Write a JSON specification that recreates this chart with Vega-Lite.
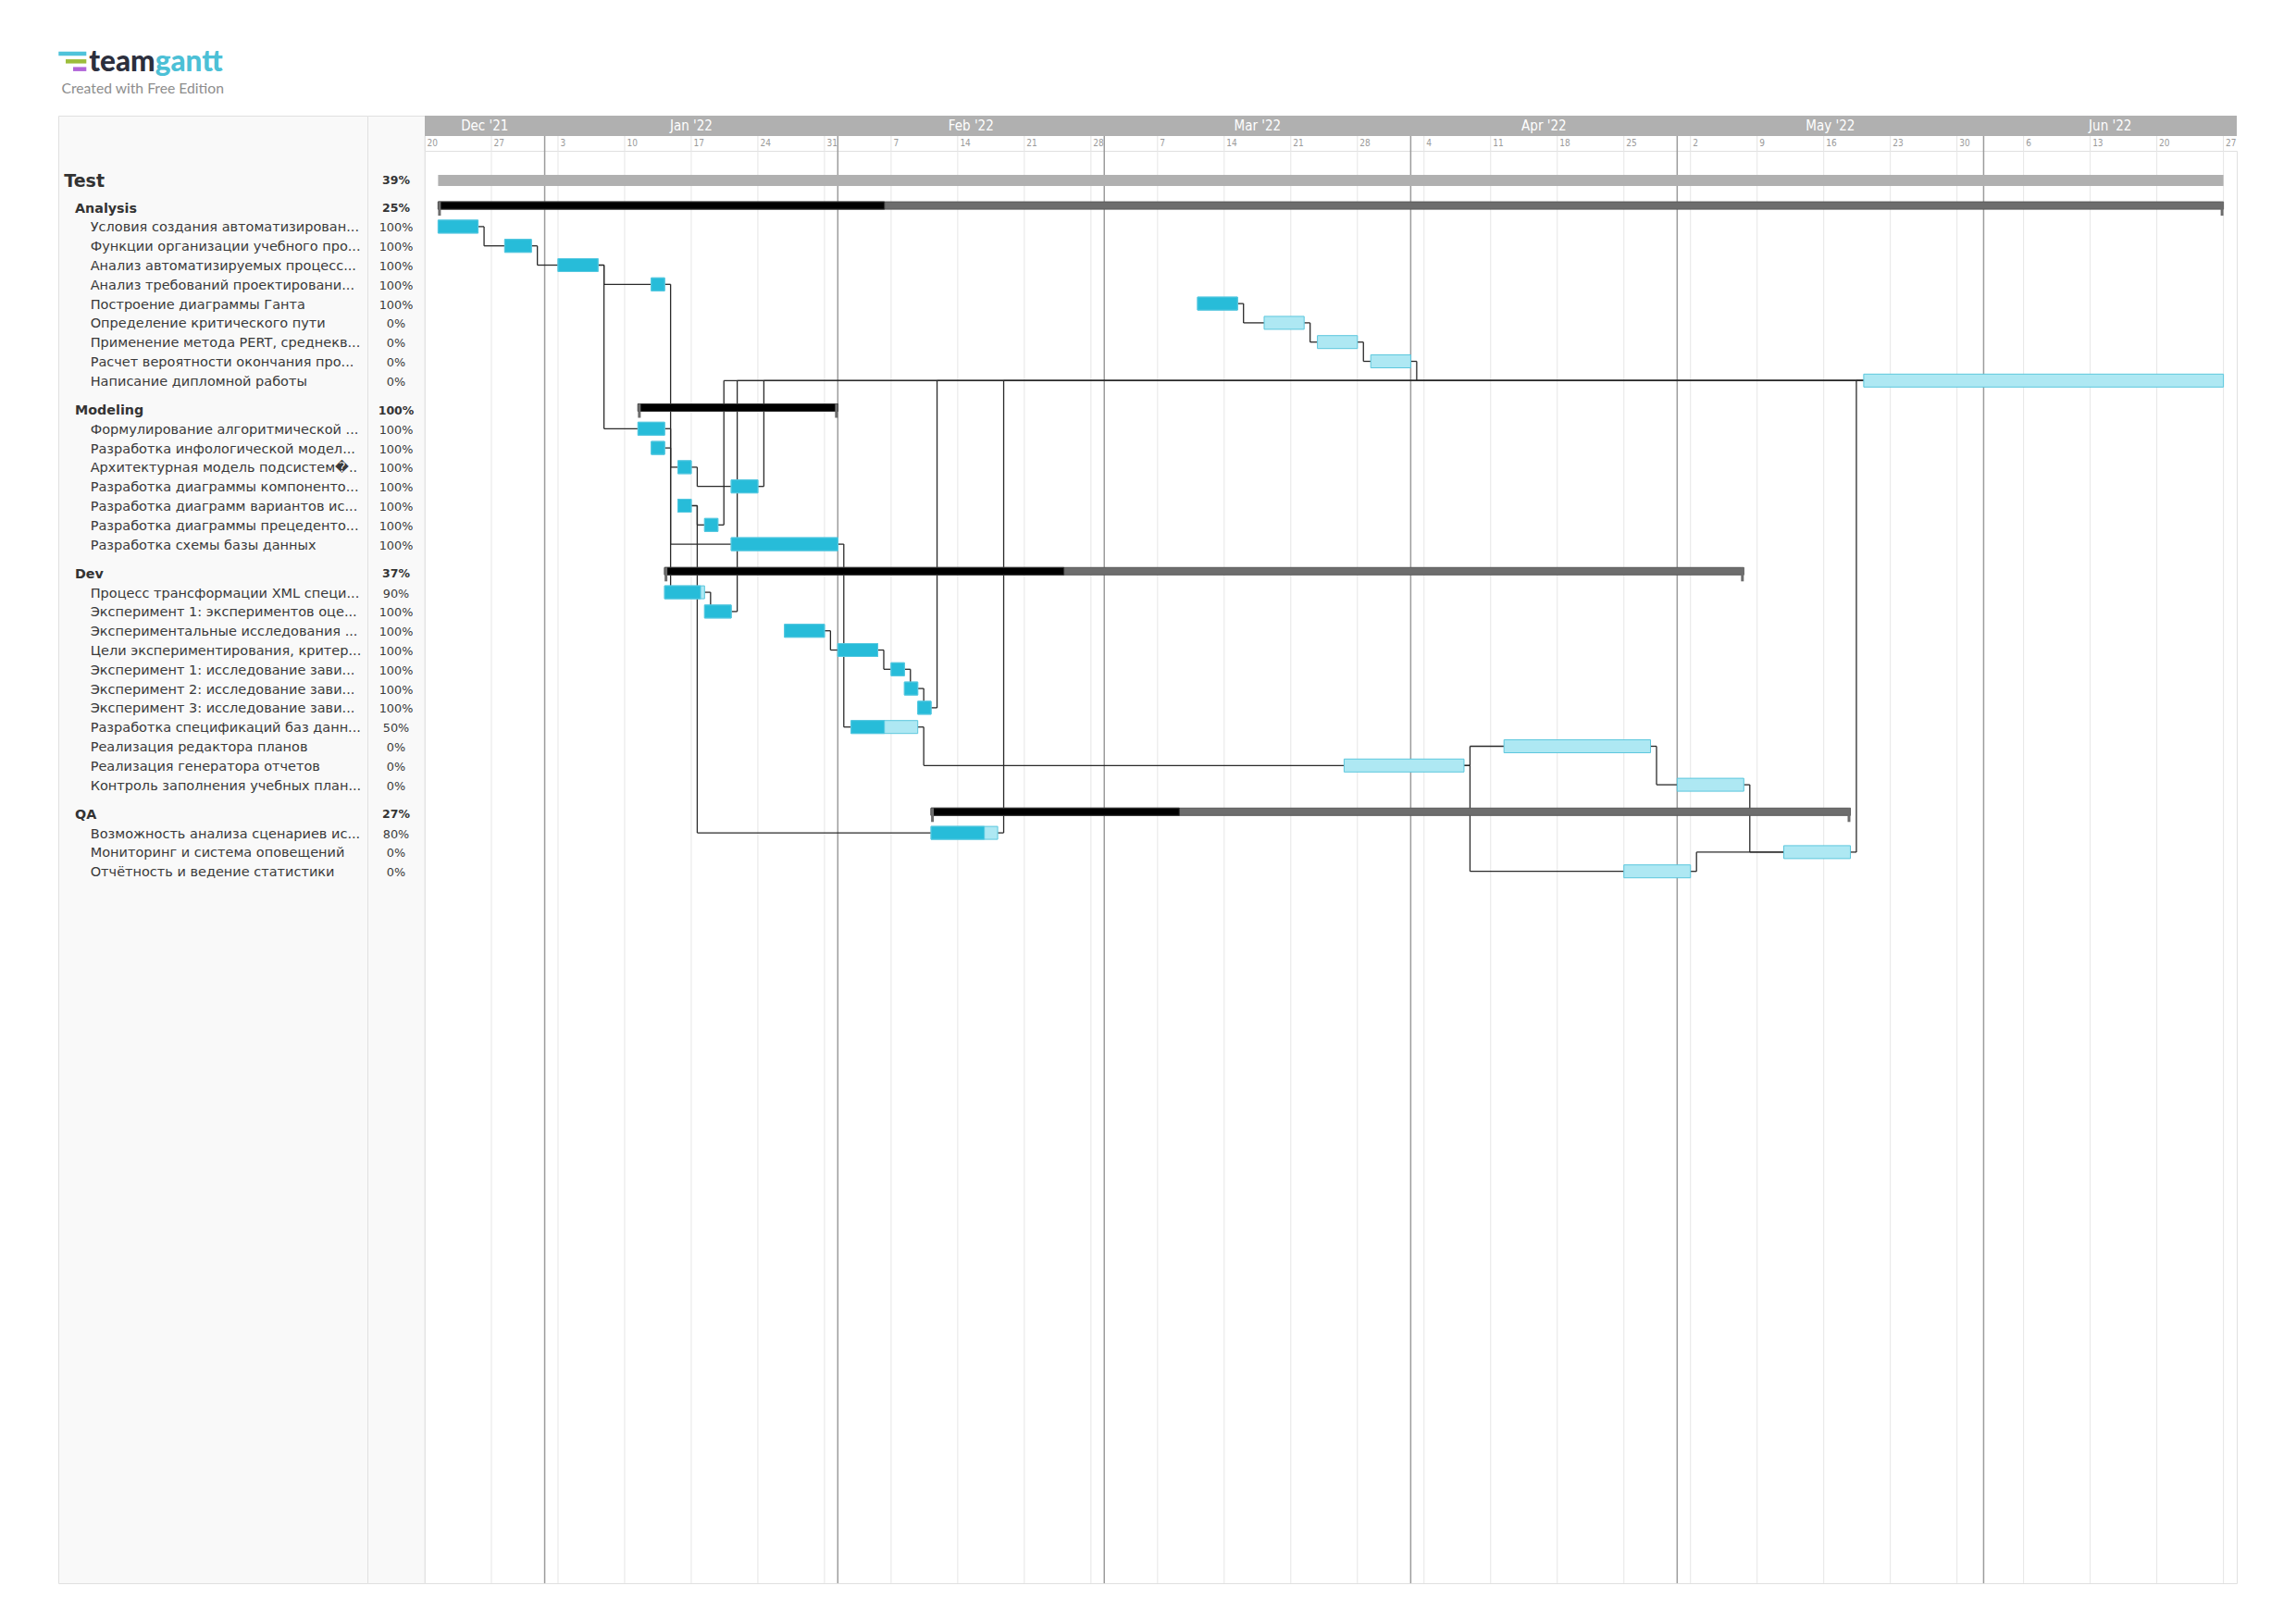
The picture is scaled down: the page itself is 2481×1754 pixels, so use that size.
{
  "$schema": "https://vega.github.io/schema/vega-lite/v6.json",
  "background": "white",
  "padding": {"left": 62, "top": 0, "right": 0, "bottom": 0},
  "bounds": "flush",
  "spacing": 0,
  "config": {"view": {"stroke": null}, "font": "DejaVu Sans", "scale": {"continuousPadding": 0}},
  "datasets": {
    "tasks": [
      {"id": "test", "name": "Test", "type": "project", "level": 0, "row": 0.6, "start": 1, "end": 135, "pct": 39},
      {"id": "g1", "name": "Analysis", "type": "group", "level": 1, "row": 2, "start": 1, "end": 135, "pct": 25},
      {"id": "a1", "name": "Условия создания автоматизирован...", "type": "task", "level": 2, "row": 3, "start": 1, "end": 4, "pct": 100},
      {"id": "a2", "name": "Функции организации учебного про...", "type": "task", "level": 2, "row": 4, "start": 6, "end": 8, "pct": 100},
      {"id": "a3", "name": "Анализ автоматизируемых процесс...", "type": "task", "level": 2, "row": 5, "start": 10, "end": 13, "pct": 100},
      {"id": "a4", "name": "Анализ требований проектировани...", "type": "task", "level": 2, "row": 6, "start": 17, "end": 18, "pct": 100},
      {"id": "a5", "name": "Построение диаграммы Ганта", "type": "task", "level": 2, "row": 7, "start": 58, "end": 61, "pct": 100},
      {"id": "a6", "name": "Определение критического пути", "type": "task", "level": 2, "row": 8, "start": 63, "end": 66, "pct": 0},
      {"id": "a7", "name": "Применение метода PERT, среднекв...", "type": "task", "level": 2, "row": 9, "start": 67, "end": 70, "pct": 0},
      {"id": "a8", "name": "Расчет вероятности окончания про...", "type": "task", "level": 2, "row": 10, "start": 71, "end": 74, "pct": 0},
      {"id": "a9", "name": "Написание дипломной работы", "type": "task", "level": 2, "row": 11, "start": 108, "end": 135, "pct": 0},
      {"id": "g2", "name": "Modeling", "type": "group", "level": 1, "row": 12.5, "start": 16, "end": 31, "pct": 100},
      {"id": "m1", "name": "Формулирование алгоритмической ...", "type": "task", "level": 2, "row": 13.5, "start": 16, "end": 18, "pct": 100},
      {"id": "m2", "name": "Разработка инфологической модел...", "type": "task", "level": 2, "row": 14.5, "start": 17, "end": 18, "pct": 100},
      {"id": "m3", "name": "Архитектурная модель подсистем�..", "type": "task", "level": 2, "row": 15.5, "start": 19, "end": 20, "pct": 100},
      {"id": "m4", "name": "Разработка диаграммы компоненто...", "type": "task", "level": 2, "row": 16.5, "start": 23, "end": 25, "pct": 100},
      {"id": "m5", "name": "Разработка диаграмм вариантов ис...", "type": "task", "level": 2, "row": 17.5, "start": 19, "end": 20, "pct": 100},
      {"id": "m6", "name": "Разработка диаграммы прецеденто...", "type": "task", "level": 2, "row": 18.5, "start": 21, "end": 22, "pct": 100},
      {"id": "m7", "name": "Разработка схемы базы данных", "type": "task", "level": 2, "row": 19.5, "start": 23, "end": 31, "pct": 100},
      {"id": "g3", "name": "Dev", "type": "group", "level": 1, "row": 21, "start": 18, "end": 99, "pct": 37},
      {"id": "d1", "name": "Процесс трансформации XML специ...", "type": "task", "level": 2, "row": 22, "start": 18, "end": 21, "pct": 90},
      {"id": "d2", "name": "Эксперимент 1: экспериментов оце...", "type": "task", "level": 2, "row": 23, "start": 21, "end": 23, "pct": 100},
      {"id": "d3", "name": "Экспериментальные исследования ...", "type": "task", "level": 2, "row": 24, "start": 27, "end": 30, "pct": 100},
      {"id": "d4", "name": "Цели экспериментирования, критер...", "type": "task", "level": 2, "row": 25, "start": 31, "end": 34, "pct": 100},
      {"id": "d5", "name": "Эксперимент 1: исследование зави...", "type": "task", "level": 2, "row": 26, "start": 35, "end": 36, "pct": 100},
      {"id": "d6", "name": "Эксперимент 2: исследование зави...", "type": "task", "level": 2, "row": 27, "start": 36, "end": 37, "pct": 100},
      {"id": "d7", "name": "Эксперимент 3: исследование зави...", "type": "task", "level": 2, "row": 28, "start": 37, "end": 38, "pct": 100},
      {"id": "d8", "name": "Разработка спецификаций баз данн...", "type": "task", "level": 2, "row": 29, "start": 32, "end": 37, "pct": 50},
      {"id": "d9", "name": "Реализация редактора планов", "type": "task", "level": 2, "row": 30, "start": 81, "end": 92, "pct": 0},
      {"id": "d10", "name": "Реализация генератора отчетов", "type": "task", "level": 2, "row": 31, "start": 69, "end": 78, "pct": 0},
      {"id": "d11", "name": "Контроль заполнения учебных план...", "type": "task", "level": 2, "row": 32, "start": 94, "end": 99, "pct": 0},
      {"id": "g4", "name": "QA", "type": "group", "level": 1, "row": 33.5, "start": 38, "end": 107, "pct": 27},
      {"id": "q1", "name": "Возможность анализа сценариев ис...", "type": "task", "level": 2, "row": 34.5, "start": 38, "end": 43, "pct": 80},
      {"id": "q2", "name": "Мониторинг и система оповещений", "type": "task", "level": 2, "row": 35.5, "start": 102, "end": 107, "pct": 0},
      {"id": "q3", "name": "Отчётность и ведение статистики", "type": "task", "level": 2, "row": 36.5, "start": 90, "end": 95, "pct": 0}
    ],
    "deps": [
      {"src": "a1", "dst": "a2"}, {"src": "a2", "dst": "a3"}, {"src": "a3", "dst": "a4"}, {"src": "a3", "dst": "m1"},
      {"src": "a4", "dst": "d1"}, {"src": "m1", "dst": "m3"}, {"src": "m2", "dst": "m7"}, {"src": "m3", "dst": "m4"},
      {"src": "m5", "dst": "m6"}, {"src": "m5", "dst": "q1"}, {"src": "m6", "dst": "a9"}, {"src": "m4", "dst": "a9"},
      {"src": "d2", "dst": "a9"}, {"src": "d7", "dst": "a9"}, {"src": "q1", "dst": "a9"}, {"src": "a5", "dst": "a6"},
      {"src": "a6", "dst": "a7"}, {"src": "a7", "dst": "a8"}, {"src": "a8", "dst": "a9"}, {"src": "q2", "dst": "a9"},
      {"src": "d1", "dst": "d2"}, {"src": "d3", "dst": "d4"}, {"src": "d4", "dst": "d5"}, {"src": "d5", "dst": "d6"},
      {"src": "d6", "dst": "d7"}, {"src": "m7", "dst": "d8"}, {"src": "d8", "dst": "d10"}, {"src": "d10", "dst": "d9"},
      {"src": "d10", "dst": "q3"}, {"src": "d9", "dst": "d11"}, {"src": "d11", "dst": "q2"}, {"src": "q3", "dst": "q2"}
    ],
    "months": [
      {"m": "Dec '21", "s": 0, "e": 9}, {"m": "Jan '22", "s": 9, "e": 31}, {"m": "Feb '22", "s": 31, "e": 51},
      {"m": "Mar '22", "s": 51, "e": 74}, {"m": "Apr '22", "s": 74, "e": 94}, {"m": "May '22", "s": 94, "e": 117},
      {"m": "Jun '22", "s": 117, "e": 136}
    ],
    "weeks": [
      {"w": 0, "d": "20"}, {"w": 5, "d": "27"}, {"w": 10, "d": "3"}, {"w": 15, "d": "10"}, {"w": 20, "d": "17"},
      {"w": 25, "d": "24"}, {"w": 30, "d": "31"}, {"w": 35, "d": "7"}, {"w": 40, "d": "14"}, {"w": 45, "d": "21"},
      {"w": 50, "d": "28"}, {"w": 55, "d": "7"}, {"w": 60, "d": "14"}, {"w": 65, "d": "21"}, {"w": 70, "d": "28"},
      {"w": 75, "d": "4"}, {"w": 80, "d": "11"}, {"w": 85, "d": "18"}, {"w": 90, "d": "25"}, {"w": 95, "d": "2"},
      {"w": 100, "d": "9"}, {"w": 105, "d": "16"}, {"w": 110, "d": "23"}, {"w": 115, "d": "30"}, {"w": 120, "d": "6"},
      {"w": 125, "d": "13"}, {"w": 130, "d": "20"}, {"w": 135, "d": "27"}
    ],
    "logoBars": [{"k": 1, "len": 30}, {"k": 2, "len": 22.3}, {"k": 3, "len": 14.3}],
    "brand": [{"a": "team", "b": "gantt", "c": "Created with Free Edition"}]
  },
  "vconcat": [
    {
      "width": 334,
      "height": 125,
      "layer": [
        {
          "data": {"name": "logoBars"},
          "mark": {"type": "bar", "orient": "horizontal", "height": 4.5},
          "encoding": {
            "x": {"field": "len", "type": "quantitative", "scale": {"domain": [0, 30], "range": [30.3, 0.3]}, "axis": null},
            "y": {"field": "k", "type": "quantitative", "scale": {"domain": [-5.96, 9.04], "reverse": true, "nice": false, "zero": false, "padding": 0}, "axis": null},
            "color": {"field": "k", "type": "nominal", "scale": {"range": ["#4fc3da", "#9cbd3b", "#b165d9"]}, "legend": null}
          }
        },
        {
          "data": {"name": "brand"},
          "mark": {"type": "text", "align": "right", "baseline": "alphabetic", "dx": -62.3, "dy": 14.5, "font": "Lato", "fontSize": 31.5, "fontWeight": 900, "color": "#2c2f3d"},
          "encoding": {"text": {"field": "a"}}
        },
        {
          "data": {"name": "brand"},
          "mark": {"type": "text", "align": "left", "baseline": "alphabetic", "dx": -62.3, "dy": 14.5, "font": "Lato", "fontSize": 31.5, "fontWeight": 900, "color": "#4cc0d6"},
          "encoding": {"text": {"field": "b"}}
        },
        {
          "data": {"name": "brand"},
          "mark": {"type": "text", "align": "left", "baseline": "alphabetic", "dx": -163.5, "dy": 38.5, "font": "Lato", "fontSize": 15.7, "color": "#8d8d8d"},
          "encoding": {"text": {"field": "c"}}
        }
      ]
    },
    {
      "spacing": 0,
      "bounds": "flush",
      "hconcat": [
        {
          "width": 334,
          "height": 1586,
          "view": {"fill": "#f9f9f9", "stroke": "#e0e0e0"},
          "data": {"name": "tasks"},
          "encoding": {
            "x": {"field": "level", "type": "quantitative", "scale": {"domain": [0, 1, 2], "range": [6.3, 18, 34.7]}, "axis": null},
            "y": {"field": "row", "type": "quantitative", "scale": {"domain": [-2.764, 73.486], "reverse": true, "nice": false, "zero": false, "padding": 0}, "axis": null},
            "text": {"field": "name"}
          },
          "layer": [
            {"transform": [{"filter": "datum.type === 'project'"}], "mark": {"type": "text", "align": "left", "baseline": "alphabetic", "dy": 7.3, "fontSize": 19, "fontWeight": "bold", "color": "#333333"}},
            {"transform": [{"filter": "datum.type === 'group'"}], "mark": {"type": "text", "align": "left", "baseline": "alphabetic", "dy": 6, "fontSize": 14.3, "fontWeight": "bold", "color": "#333333"}},
            {"transform": [{"filter": "datum.type === 'task'"}], "mark": {"type": "text", "align": "left", "baseline": "alphabetic", "dy": 5.6, "fontSize": 14.5, "color": "#3a3a3a"}}
          ]
        },
        {
          "width": 62,
          "height": 1586,
          "view": {"fill": "#f9f9f9", "stroke": "#e0e0e0"},
          "data": {"name": "tasks"},
          "transform": [{"calculate": "datum.pct + '%'", "as": "pl"}],
          "encoding": {
            "y": {"field": "row", "type": "quantitative", "scale": {"domain": [-2.764, 73.486], "reverse": true, "nice": false, "zero": false, "padding": 0}, "axis": null},
            "text": {"field": "pl"}
          },
          "layer": [
            {"transform": [{"filter": "datum.type === 'project'"}], "mark": {"type": "text", "align": "center", "baseline": "alphabetic", "dy": 4.3, "fontSize": 12.5, "fontWeight": "bold", "color": "#333333"}},
            {"transform": [{"filter": "datum.type === 'group'"}], "mark": {"type": "text", "align": "center", "baseline": "alphabetic", "dy": 5.2, "fontSize": 12.5, "fontWeight": "bold", "color": "#333333"}},
            {"transform": [{"filter": "datum.type === 'task'"}], "mark": {"type": "text", "align": "center", "baseline": "alphabetic", "dy": 5.6, "fontSize": 12.8, "color": "#3a3a3a"}}
          ]
        },
        {
          "spacing": 0,
          "bounds": "flush",
          "vconcat": [
            {
              "width": 1958,
              "height": 22,
              "view": {"fill": "#b0b0b0", "stroke": null},
              "data": {"name": "months"},
              "transform": [{"calculate": "(datum.s + datum.e) / 2", "as": "mid"}],
              "mark": {"type": "text", "color": "white", "fontSize": 15, "font": "DejaVu Sans Condensed, DejaVu Sans", "baseline": "middle"},
              "encoding": {
                "x": {"field": "mid", "type": "quantitative", "scale": {"domain": [0, 136], "nice": false, "zero": false}, "axis": null},
                "text": {"field": "m"}
              }
            },
            {
              "width": 1958,
              "height": 16,
              "layer": [
                {
                  "data": {"name": "weeks"},
                  "mark": {"type": "rule", "color": "#e3e3e3", "strokeWidth": 1},
                  "encoding": {"x": {"field": "w", "type": "quantitative", "scale": {"domain": [0, 136], "nice": false, "zero": false}, "axis": null}}
                },
                {
                  "data": {"name": "months"},
                  "transform": [{"filter": "datum.s > 0"}],
                  "mark": {"type": "rule", "color": "#9c9c9c", "strokeWidth": 1.5},
                  "encoding": {"x": {"field": "s", "type": "quantitative", "axis": null}}
                },
                {
                  "data": {"name": "weeks"},
                  "mark": {"type": "text", "align": "left", "baseline": "middle", "dx": 2.5, "fontSize": 10, "color": "#9a9a9a", "font": "DejaVu Sans Condensed, DejaVu Sans"},
                  "encoding": {"x": {"field": "w", "type": "quantitative", "axis": null}, "text": {"field": "d"}}
                }
              ]
            },
            {
              "width": 1958,
              "height": 1548,
              "view": {"stroke": "#e0e0e0"},
              "layer": [
                {
                  "data": {"name": "weeks"},
                  "mark": {"type": "rule", "color": "#e6e6e6", "strokeWidth": 1},
                  "encoding": {"x": {"field": "w", "type": "quantitative", "scale": {"domain": [0, 136], "nice": false, "zero": false, "padding": 0}, "axis": null}}
                },
                {
                  "data": {"name": "months"},
                  "transform": [{"filter": "datum.s > 0"}],
                  "mark": {"type": "rule", "color": "#9c9c9c", "strokeWidth": 1.5},
                  "encoding": {"x": {"field": "s", "type": "quantitative", "axis": null}}
                },
                {
                  "data": {"name": "deps"},
                  "transform": [
                    {"lookup": "src", "from": {"data": {"name": "tasks"}, "key": "id", "fields": ["end", "row"]}, "as": ["fe", "fr"]},
                    {"lookup": "dst", "from": {"data": {"name": "tasks"}, "key": "id", "fields": ["start", "row"]}, "as": ["ts", "tr"]},
                    {"calculate": "datum.fe + 0.45", "as": "elbow"}
                  ],
                  "layer": [
                    {
                      "mark": {"type": "rule", "color": "#2a2a2a", "strokeWidth": 1.3},
                      "encoding": {
                        "x": {"field": "fe", "type": "quantitative", "axis": null},
                        "x2": {"field": "elbow"},
                        "y": {"field": "fr", "type": "quantitative", "scale": {"domain": [-0.9375, 73.486], "reverse": true, "nice": false, "zero": false, "padding": 0}, "axis": null}
                      }
                    },
                    {
                      "mark": {"type": "rule", "color": "#2a2a2a", "strokeWidth": 1.3},
                      "encoding": {
                        "x": {"field": "elbow", "type": "quantitative", "axis": null},
                        "y": {"field": "fr", "type": "quantitative", "axis": null},
                        "y2": {"field": "tr"}
                      }
                    },
                    {
                      "mark": {"type": "rule", "color": "#2a2a2a", "strokeWidth": 1.3},
                      "encoding": {
                        "x": {"field": "elbow", "type": "quantitative", "axis": null},
                        "x2": {"field": "ts"},
                        "y": {"field": "tr", "type": "quantitative", "axis": null}
                      }
                    }
                  ]
                },
                {
                  "data": {"name": "tasks"},
                  "transform": [
                    {"calculate": "datum.start + datum.pct / 100 * (datum.end - datum.start)", "as": "done"}
                  ],
                  "layer": [
                    {
                      "transform": [{"filter": "datum.type === 'project'"}],
                      "mark": {"type": "bar", "height": 12, "fill": "#b0b0b0"},
                      "encoding": {
                        "x": {"field": "start", "type": "quantitative", "axis": null},
                        "x2": {"field": "end"},
                        "y": {"field": "row", "type": "quantitative", "axis": null}
                      }
                    },
                    {
                      "transform": [{"filter": "datum.type === 'group'"}],
                      "mark": {"type": "bar", "height": 8, "yOffset": -2, "fill": "#6d6d6d", "stroke": "#5a5a5a", "strokeWidth": 1},
                      "encoding": {
                        "x": {"field": "start", "type": "quantitative", "axis": null},
                        "x2": {"field": "end"},
                        "y": {"field": "row", "type": "quantitative", "axis": null}
                      }
                    },
                    {
                      "transform": [{"filter": "datum.type === 'group'"}],
                      "mark": {"type": "bar", "height": 8, "yOffset": -2, "fill": "#000000", "stroke": "#333333", "strokeWidth": 1},
                      "encoding": {
                        "x": {"field": "start", "type": "quantitative", "axis": null},
                        "x2": {"field": "done"},
                        "y": {"field": "row", "type": "quantitative", "axis": null}
                      }
                    },
                    {
                      "transform": [{"filter": "datum.type === 'group'"}],
                      "mark": {"type": "rule", "color": "#6d6d6d", "strokeWidth": 3, "xOffset": 1.5, "yOffset": -6, "y2Offset": 9},
                      "encoding": {
                        "x": {"field": "start", "type": "quantitative", "axis": null},
                        "y": {"field": "row", "type": "quantitative", "axis": null},
                        "y2": {"field": "row"}
                      }
                    },
                    {
                      "transform": [{"filter": "datum.type === 'group'"}],
                      "mark": {"type": "rule", "color": "#6d6d6d", "strokeWidth": 3, "xOffset": -1.5, "yOffset": -6, "y2Offset": 9},
                      "encoding": {
                        "x": {"field": "end", "type": "quantitative", "axis": null},
                        "y": {"field": "row", "type": "quantitative", "axis": null},
                        "y2": {"field": "row"}
                      }
                    },
                    {
                      "transform": [{"filter": "datum.type === 'task'"}],
                      "mark": {"type": "bar", "height": 14, "fill": "#aee8f3", "stroke": "#5cc7dd", "strokeWidth": 1},
                      "encoding": {
                        "x": {"field": "start", "type": "quantitative", "axis": null},
                        "x2": {"field": "end"},
                        "y": {"field": "row", "type": "quantitative", "axis": null}
                      }
                    },
                    {
                      "transform": [{"filter": "datum.type === 'task' && datum.pct > 0"}],
                      "mark": {"type": "bar", "height": 14, "fill": "#27bcd9", "stroke": "#55c8e0", "strokeWidth": 1},
                      "encoding": {
                        "x": {"field": "start", "type": "quantitative", "axis": null},
                        "x2": {"field": "done"},
                        "y": {"field": "row", "type": "quantitative", "axis": null}
                      }
                    }
                  ]
                }
              ]
            }
          ]
        }
      ]
    }
  ]
}
